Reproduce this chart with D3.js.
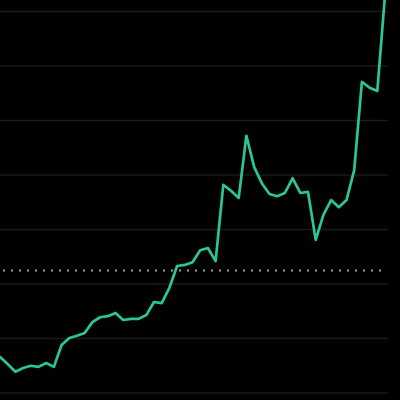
<!DOCTYPE html>
<html>
<head>
<meta charset="utf-8">
<script src="https://cdn.jsdelivr.net/npm/d3@7"></script>
<style>
  html, body { margin: 0; padding: 0; background: #000; }
  svg { display: block; }
</style>
</head>
<body>
<svg id="chart" width="400" height="400"></svg>
<script>
// values (arbitrary units, gridlines every 10)
var prices = [6.6, 5.3, 3.9, 4.6, 5.0, 4.8, 5.5, 4.8, 8.8, 10.1,
              10.5, 11.0, 13.0, 13.9, 14.1, 14.7, 13.4, 13.6, 13.6, 14.3,
              16.7, 16.5, 19.3, 23.3, 23.5, 24.0, 26.2, 26.6, 24.2, 38.2,
              37.1, 35.8, 47.2, 41.5, 38.5, 36.5, 36.1, 36.7, 39.4, 36.7,
              36.9, 28.1, 32.7, 35.4, 34.1, 35.4, 40.9, 57.1, 56.0, 55.4,
              73.0];
var gridValues = [0, 10, 20, 30, 40, 50, 60, 70];
var refValue = 22.5;

var svg = d3.select("#chart");
var width = 400, height = 400;

svg.append("rect").attr("width", width).attr("height", height).attr("fill", "#000");

var x = d3.scaleLinear().domain([0, prices.length - 1]).range([0, 385]);
var y = d3.scaleLinear().domain([0, 70]).range([393, 11.5]);

// gridlines
svg.append("g")
  .selectAll("line")
  .data(gridValues)
  .enter()
  .append("line")
  .attr("x1", 0)
  .attr("x2", 388)
  .attr("y1", d => y(d))
  .attr("y2", d => y(d))
  .attr("stroke", "#1a1a1f")
  .attr("stroke-width", 1.5);

// dotted reference line
svg.append("line")
  .attr("x1", 3)
  .attr("x2", 384)
  .attr("y1", y(refValue))
  .attr("y2", y(refValue))
  .attr("stroke", "#a29eb8")
  .attr("stroke-width", 2)
  .attr("stroke-dasharray", "2 6");

svg.append("clipPath").attr("id", "clip")
  .append("rect").attr("width", width).attr("height", height);

var line = d3.line()
  .x((d, i) => x(i))
  .y(d => y(d));

svg.append("path")
  .datum(prices)
  .attr("clip-path", "url(#clip)")
  .attr("d", line)
  .attr("fill", "none")
  .attr("stroke", "#2ac693")
  .attr("stroke-width", 2.7)
  .attr("stroke-linejoin", "round")
  .attr("stroke-linecap", "round");
</script>
</body>
</html>
